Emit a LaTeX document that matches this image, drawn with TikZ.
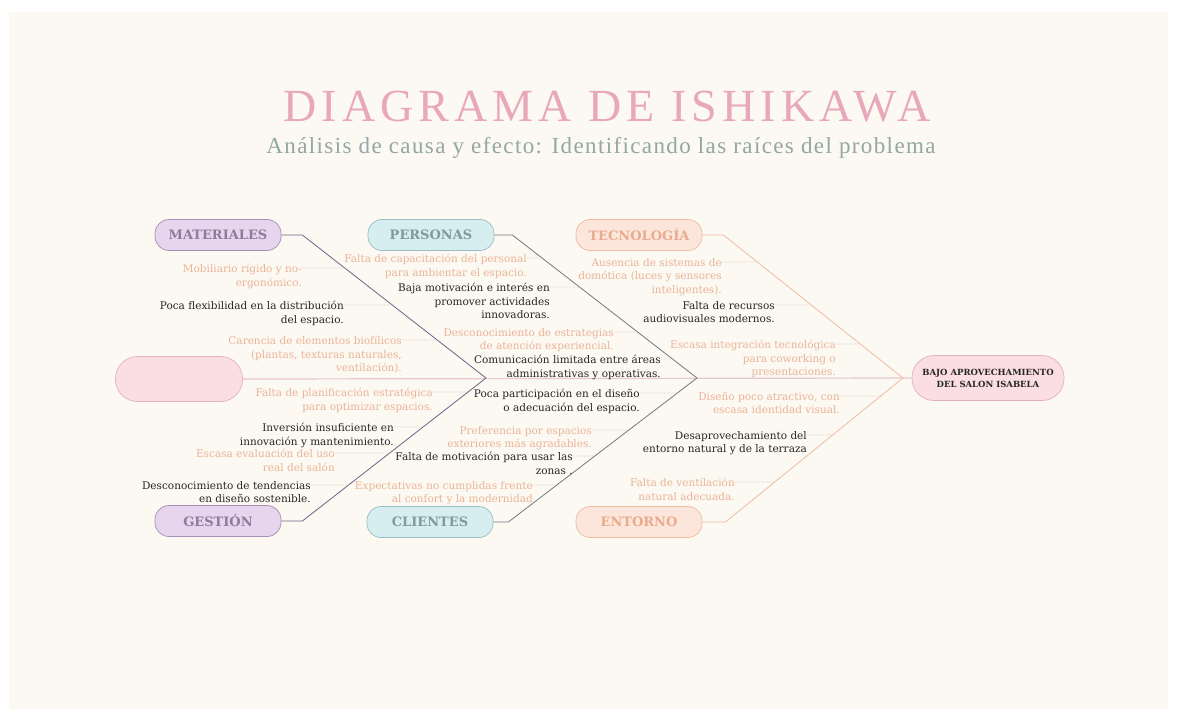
\documentclass[tikz,border=0pt]{standalone}
\usepackage{fontspec}
\setmainfont{DejaVu Serif}
\newfontfamily\titlefont[LetterSpace=11]{Liberation Serif}
\newfontfamily\subfont[LetterSpace=6]{Liberation Serif}
\usepackage{tikz}
\usetikzlibrary{positioning}
\definecolor{colorpaper}{RGB}{252,248,242}
\definecolor{colortitle}{RGB}{232,167,186}
\definecolor{colorsub}{RGB}{147,167,164}
\definecolor{colorsoft}{RGB}{234,180,150}
\definecolor{colorhard}{RGB}{38,38,38}
\definecolor{matfill}{RGB}{231,213,237}
\definecolor{matdraw}{RGB}{165,143,180}
\definecolor{mattext}{RGB}{142,124,156}
\definecolor{matline}{RGB}{112,100,134}
\definecolor{perfill}{RGB}{215,238,241}
\definecolor{perdraw}{RGB}{150,190,195}
\definecolor{pertext}{RGB}{128,154,158}
\definecolor{perline}{RGB}{108,124,130}
\definecolor{tecfill}{RGB}{252,230,219}
\definecolor{tecdraw}{RGB}{236,188,163}
\definecolor{tectext}{RGB}{234,170,140}
\definecolor{tecline}{RGB}{237,190,164}
\definecolor{headfill}{RGB}{251,221,228}
\definecolor{headdraw}{RGB}{226,178,190}
\definecolor{colorspine}{RGB}{232,200,207}
\definecolor{colorleader}{RGB}{204,196,188}

\begin{document}
\begin{tikzpicture}[
    x=1pt, y=-1pt,
    soft/.style={anchor=north east,align=right,inner sep=0pt,text=colorsoft,font=\fontsize{10.5}{13.5}\selectfont},
    hard/.style={soft,text=colorhard},
    category/.style={rectangle,rounded corners=14pt,minimum width=126pt,minimum height=31pt,line width=0.7pt,font=\fontsize{13}{15}\selectfont\bfseries},
    materials/.style={category,fill=matfill,draw=matdraw,text=mattext},
    people/.style={category,fill=perfill,draw=perdraw,text=pertext},
    techno/.style={category,fill=tecfill,draw=tecdraw,text=tectext},
    problem/.style={rectangle,rounded corners=22pt,minimum height=45pt,line width=0.7pt,fill=headfill,draw=headdraw,align=center,font=\fontsize{8.5}{12}\selectfont\bfseries},
    bone/.style={line width=0.8pt},
    leader/.style={draw=colorleader,densely dotted,line width=0.6pt},
]

    % Sheet
    \fill[white] (0,0) rectangle (1177,721);
    \fill[colorpaper] (9,12) rectangle (1168,709);
    \useasboundingbox (0,0) rectangle (1177,721);

    % Title
    \node[anchor=base,text=colortitle,font=\titlefont\fontsize{46}{46}\selectfont] (title) at (607,121) {DIAGRAMA DE ISHIKAWA};
    \node[anchor=base,text=colorsub,font=\subfont\fontsize{23}{25}\selectfont] (subtitle) at (601,153) {Análisis de causa y efecto: Identificando las raíces del problema};

    % Tail and head
    \node[problem,minimum width=127pt] (tail) at (179,379) {};
    \node[problem,minimum width=152pt,text=colorhard] (effect) at (988,378) {BAJO APROVECHAMIENTO\\DEL SALON ISABELA};
    \draw[draw=colorspine,line width=1.2pt] (tail.east) -- (effect.west);

    % Categories
    \node[materials] (mat) at (218,235) {MATERIALES};
    \node[materials] (ges) at (218,521) {GESTIÓN};
    \node[people]    (per) at (431,235) {PERSONAS};
    \node[people]    (cli) at (430,522) {CLIENTES};
    \node[techno]    (tec) at (639,235) {TECNOLOGÍA};
    \node[techno]    (ent) at (639,522) {ENTORNO};

    % Bones
    \coordinate (jl) at (486,378);
    \coordinate (jm) at (697,378);
    \coordinate (jr) at (903,378);
    \draw[bone,matline] (mat.east) -- ++(21,0) coordinate (matk) -- (jl);
    \draw[bone,matline] (ges.east) -- ++(21,0) coordinate (gesk) -- (jl);
    \draw[bone,perline] (per.east) -- ++(18,0) coordinate (perk) -- (jm);
    \draw[bone,perline] (cli.east) -- ++(15,0) coordinate (clik) -- (jm);
    \draw[bone,tecline] (tec.east) -- ++(21,0) coordinate (teck) -- (jr);
    \draw[bone,tecline] (ent.east) -- ++(23,0) coordinate (entk) -- (jr);

    % Causes
    \node[soft] (t1)  at (302,264) {Mobiliario rígido y no-\\ergonómico.};
    \node[hard] (t2)  at (344,301) {Poca flexibilidad en la distribución\\del espacio.};
    \node[soft] (t3)  at (402,336) {Carencia de elementos biofílicos\\(plantas, texturas naturales,\\ventilación).};
    \node[soft] (t4)  at (433,388) {Falta de planificación estratégica\\para optimizar espacios.};
    \node[hard] (t5)  at (394,423) {Inversión insuficiente en\\innovación y mantenimiento.};
    \node[soft] (t6)  at (335,449) {Escasa evaluación del uso\\real del salón};
    \node[hard] (t7)  at (311,481) {Desconocimiento de tendencias\\en diseño sostenible.};
    \node[soft] (t8)  at (527,254) {Falta de capacitación del personal\\para ambientar el espacio.};
    \node[hard] (t9)  at (550,283) {Baja motivación e interés en\\promover actividades\\innovadoras.};
    \node[soft] (t10) at (614,328) {Desconocimiento de estrategias\\de atención experiencial.};
    \node[hard] (t11) at (661,355) {Comunicación limitada entre áreas\\administrativas y operativas.};
    \node[hard] (t12) at (640,389) {Poca participación en el diseño\\o adecuación del espacio.};
    \node[soft] (t13) at (592,426) {Preferencia por espacios\\exteriores más agradables.};
    \node[hard] (t14) at (573,452) {Falta de motivación para usar las\\zonas .};
    \node[soft] (t15) at (533,481) {Expectativas no cumplidas frente\\al confort y la modernidad};
    \node[soft] (t16) at (722,258) {Ausencia de sistemas de\\domótica (luces y sensores\\inteligentes).};
    \node[hard] (t17) at (775,301) {Falta de recursos\\audiovisuales modernos.};
    \node[soft] (t18) at (836,340) {Escasa integración tecnológica\\para coworking o\\presentaciones.};
    \node[soft] (t19) at (840,392) {Diseño poco atractivo, con\\escasa identidad visual.};
    \node[hard] (t20) at (807,431) {Desaprovechamiento del\\entorno natural y de la terraza};
    \node[soft] (t21) at (735,478) {Falta de ventilación\\natural adecuada.};

    % Leaders
    \foreach \t/\a/\b in {t1/matk/jl,t2/matk/jl,t3/matk/jl,t4/gesk/jl,t5/gesk/jl,t6/gesk/jl,t7/gesk/jl,
                          t8/perk/jm,t9/perk/jm,t10/perk/jm,t11/perk/jm,t12/clik/jm,t13/clik/jm,t14/clik/jm,t15/clik/jm,
                          t16/teck/jr,t17/teck/jr,t18/teck/jr,t19/entk/jr,t20/entk/jr,t21/entk/jr}
        \draw[leader] ([yshift=-4pt]\t.north east) -- (intersection cs: first line={([yshift=-4pt]\t.north west)--([yshift=-4pt]\t.north east)}, second line={(\a)--(\b)});

\end{tikzpicture}
\end{document}
